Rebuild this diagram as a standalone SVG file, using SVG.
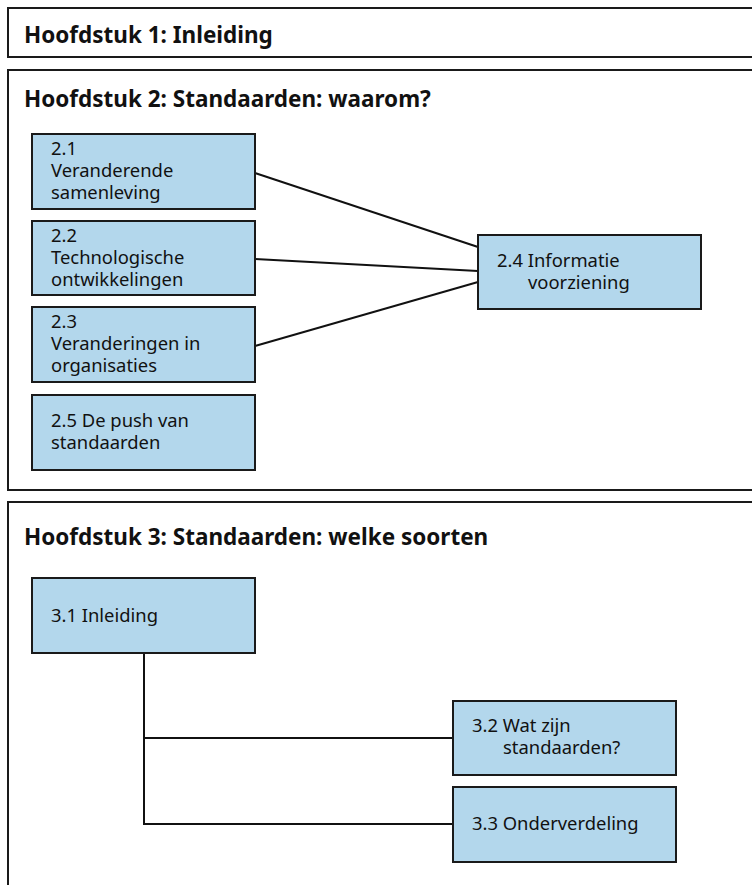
<svg xmlns="http://www.w3.org/2000/svg" width="752" height="885" viewBox="0 0 752 885">
<style>
.frame{fill:#fff;stroke:#1a1a1a;stroke-width:2}
.box{fill:#b3d7ec;stroke:#1a1a1a;stroke-width:2}
.title{font-family:"Noto Sans","Open Sans",sans-serif;font-weight:bold;font-size:22.5px;fill:#111}
.lbl{font-family:"Noto Sans","Open Sans",sans-serif;font-size:18.4px;fill:#111}
.conn{fill:none;stroke:#111;stroke-width:2}
</style>
<rect width="752" height="885" fill="#fff"/>
<g id="ch1">
<rect class="frame" x="8" y="8" width="760" height="49"/>
<text class="title" x="24" y="43">Hoofdstuk 1: Inleiding</text>
</g>
<g id="ch2">
<rect class="frame" x="8" y="70" width="760" height="420"/>
<text class="title" x="24" y="107">Hoofdstuk 2: Standaarden: waarom?</text>
</g>
<g id="ch3">
<rect class="frame" x="8" y="502" width="760" height="400"/>
<text class="title" x="24" y="545">Hoofdstuk 3: Standaarden: welke soorten</text>
</g>
<g id="connectors">
<line class="conn" x1="255" y1="173" x2="478" y2="247"/>
<line class="conn" x1="255" y1="259" x2="478" y2="271"/>
<line class="conn" x1="255" y1="346" x2="478" y2="282"/>
<polyline class="conn" points="144,653 144,824 453,824"/>
<line class="conn" x1="144" y1="738" x2="453" y2="738"/>
</g>
<g id="n21">
<rect class="box" x="32" y="134" width="223" height="75"/>
<text class="lbl" x="51" y="155">2.1</text>
<text class="lbl" x="51" y="177">Veranderende</text>
<text class="lbl" x="51" y="199">samenleving</text>
</g>
<g id="n22">
<rect class="box" x="32" y="221" width="223" height="74"/>
<text class="lbl" x="51" y="242">2.2</text>
<text class="lbl" x="51" y="264">Technologische</text>
<text class="lbl" x="51" y="286">ontwikkelingen</text>
</g>
<g id="n23">
<rect class="box" x="32" y="307" width="223" height="75"/>
<text class="lbl" x="51" y="328">2.3</text>
<text class="lbl" x="51" y="350">Veranderingen in</text>
<text class="lbl" x="51" y="372">organisaties</text>
</g>
<g id="n25">
<rect class="box" x="32" y="395" width="223" height="75"/>
<text class="lbl" x="51" y="427">2.5 De push van</text>
<text class="lbl" x="51" y="449">standaarden</text>
</g>
<g id="n24">
<rect class="box" x="478" y="235" width="223" height="74"/>
<text class="lbl" x="497" y="267">2.4 Informatie</text>
<text class="lbl" x="528" y="289">voorziening</text>
</g>
<g id="n31">
<rect class="box" x="32" y="578" width="223" height="75"/>
<text class="lbl" x="51" y="622">3.1 Inleiding</text>
</g>
<g id="n32">
<rect class="box" x="453" y="701" width="223" height="74"/>
<text class="lbl" x="472" y="732">3.2 Wat zijn</text>
<text class="lbl" x="503" y="754">standaarden?</text>
</g>
<g id="n33">
<rect class="box" x="453" y="787" width="223" height="75"/>
<text class="lbl" x="472" y="830">3.3 Onderverdeling</text>
</g>
</svg>
